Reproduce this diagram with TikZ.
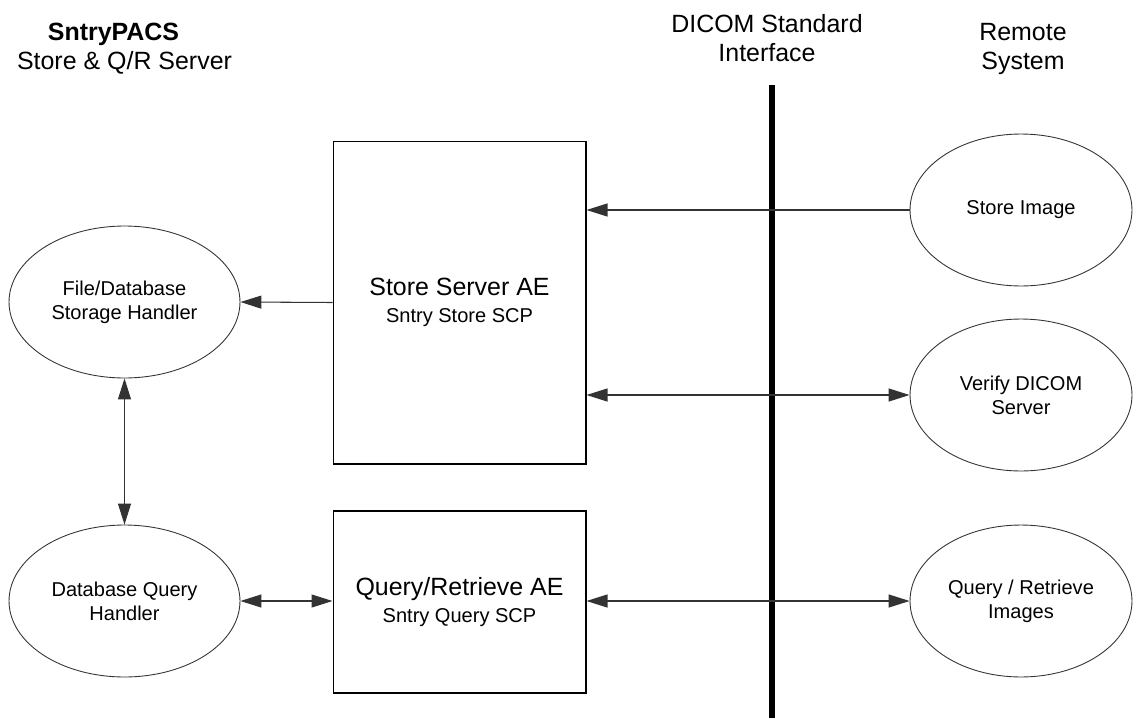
\documentclass[tikz,border=0pt]{standalone}
\usepackage{fontspec}
\setmainfont{Liberation Sans}
\usetikzlibrary{shapes.geometric,arrows.meta}

\tikzset{
  bigtext/.style={font=\fontsize{14.2}{16.5}\selectfont},
  smalltext/.style={font=\fontsize{11.4}{13.7}\selectfont},
  proc/.style={ellipse,draw=black!80,line width=0.5pt,inner sep=0pt,
    minimum width=4.62cm,minimum height=3.04cm,align=center,smalltext},
  aebox/.style={rectangle,draw=black,line width=0.6pt,inner sep=0pt,
    minimum width=5.06cm,align=center},
  link/.style={draw=black!80,line width=0.6pt,-{Triangle[length=0.42cm,width=0.26cm]}},
  duallink/.style={link,{Triangle[length=0.42cm,width=0.26cm]}-{Triangle[length=0.42cm,width=0.26cm]}}
}

\begin{document}
\begin{tikzpicture}[x=0.02cm,y=-0.02cm]
  \useasboundingbox (0,0) rectangle (1133,727);
  % headings
  \node[bigtext,font=\fontsize{14.2}{16.5}\selectfont\bfseries] (hdpacs) at (113.5,34) {SntryPACS};
  \node[bigtext] (hdserver) at (124.5,63) {Store \& Q/R Server};
  \node[bigtext,align=center] (hdiface) at (767,38) {DICOM Standard\\Interface};
  \node[bigtext,align=center] (hdremote) at (1023,49) {Remote\\System};
  % interface line
  \coordinate (ifacetop) at (772,85);
  \coordinate (ifacebot) at (772,718);
  \draw[line width=3.4pt] (ifacetop) -- (ifacebot);
  % application entities
  \node[aebox,minimum height=6.46cm] (storeae) at (459.5,302.5)
    {{\fontsize{14.2}{16.5}\selectfont Store Server AE}\\[3pt]
     {\fontsize{11.4}{13.7}\selectfont Sntry Store SCP}};
  \node[aebox,minimum height=3.64cm] (queryae) at (459.5,602)
    {{\fontsize{14.2}{16.5}\selectfont Query/Retrieve AE}\\[3pt]
     {\fontsize{11.4}{13.7}\selectfont Sntry Query SCP}};
  % local handlers
  \node[proc] (filedb) at (124.5,302) {File/Database\\Storage Handler};
  \node[proc] (dbquery) at (124.5,601) {Database Query\\Handler};
  % remote side
  \node[proc,minimum width=4.44cm] (storeimg) at (1021,210) {Store Image};
  \node[proc,minimum width=4.44cm] (verify) at (1021,395) {Verify DICOM\\Server};
  \node[proc,minimum width=4.44cm] (qrimg) at (1021,601) {Query / Retrieve\\Images};
  % connectors
  \draw[link] (storeimg.west) -- (storeimg.west -| storeae.east);
  \draw[link] (storeae.west) -- (filedb.east);
  \draw[duallink] (verify.west -| storeae.east) -- (verify.west);
  \draw[duallink] (filedb.south) -- (dbquery.north);
  \draw[duallink] (dbquery.east) -- (dbquery.east -| queryae.west);
  \draw[duallink] (qrimg.west -| queryae.east) -- (qrimg.west);
\end{tikzpicture}
\end{document}
